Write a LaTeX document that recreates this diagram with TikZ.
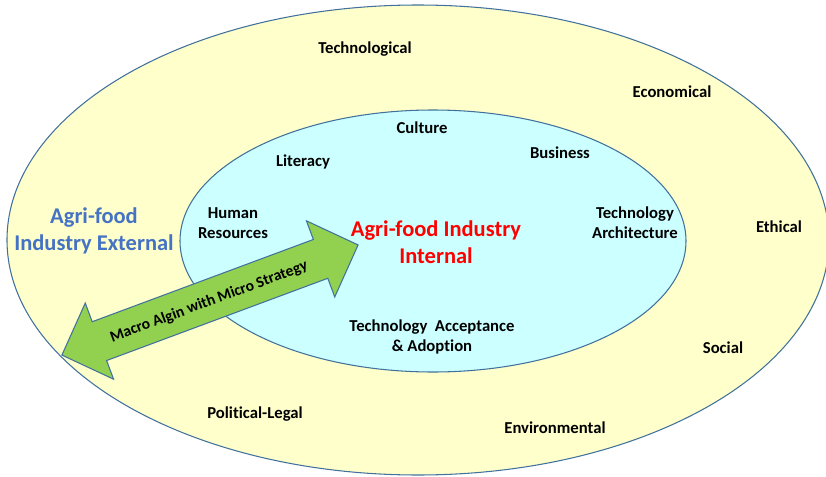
\documentclass[tikz,border=0pt]{standalone}
\usepackage{fontspec}
\setmainfont{Carlito}[Ligatures=NoCommon]
\definecolor{rim}{HTML}{41719C}
\definecolor{outerfill}{HTML}{FFFFCC}
\definecolor{innerfill}{HTML}{CCFFFF}
\definecolor{arrowgreen}{HTML}{92D050}
\definecolor{extblue}{HTML}{4472C4}
\begin{document}
\begin{tikzpicture}[x=0.02cm,y=-0.02cm,
  every node/.style={font=\bfseries\fontsize{9.5}{11.4}\selectfont,align=center,inner sep=0pt},
  ring/.style={draw=rim,line width=0.6pt},
  big/.style={font=\bfseries\fontsize{12.8}{15.6}\selectfont}]
\useasboundingbox (0,0) rectangle (826,477);
\filldraw[ring,fill=outerfill] (418,240) ellipse [x radius=411,y radius=235];
\filldraw[ring,fill=innerfill] (433,241) ellipse [x radius=253,y radius=131];

\node(o1) at (365,49) {Technological};
\node(o2) at (672,92) {Economical};
\node(o3) at (779,227) {Ethical};
\node(o4) at (723,348) {Social};
\node(o5) at (555,428) {Environmental};
\node(o6) at (255,414) {Political-Legal};
\node(ext) at (94,231) [big,text=extblue] {Agri-food\\Industry External};

\node(i1) at (422,128) {Culture};
\node(i2) at (560,153) {Business};
\node(i3) at (303,162) {Literacy};
\node(i4) at (233,223) {Human\\Resources};
\node(i5) at (635,223) {Technology\\Architecture};
\node(i6) at (432,337) {Technology\ \ Acceptance\\\& Adoption};
\node(int) at (436,242) [big,text=red] {Agri-food Industry\\Internal};

\begin{scope}[shift={(210,300)},rotate=20.4]
\filldraw[ring,fill=arrowgreen] (-158,0) -- (-118,40.6) -- (-118,20.7) -- (118,20.7) -- (118,40.6) -- (158,0)
  -- (118,-40.6) -- (118,-20.7) -- (-118,-20.7) -- (-118,-40.6) -- cycle;
\end{scope}
\node(align) at (209,302) [rotate=20.4,font=\bfseries\fontsize{8.9}{10}\selectfont] {Macro Algin with Micro Strategy};
\end{tikzpicture}
\end{document}
